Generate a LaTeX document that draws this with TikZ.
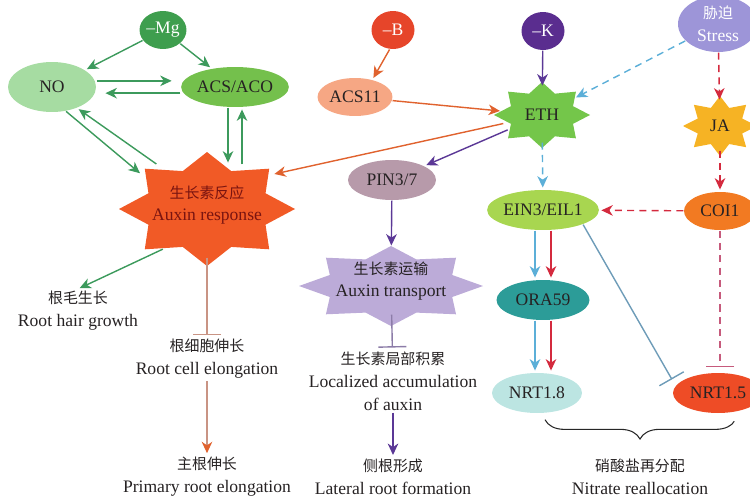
\documentclass[tikz,border=0pt]{standalone}
\usepackage{fontspec}
\setmainfont{Liberation Serif}
\newfontfamily\cjk{Noto Sans CJK SC}[Scale=0.85]
\usepackage{xcolor}
\usepackage{tikz}
\usetikzlibrary{arrows,arrows.meta,shapes.geometric,calc,decorations.pathreplacing}

\definecolor{mggreen}{HTML}{3E9E4E}
\definecolor{nogreen}{HTML}{A6DCA2}
\definecolor{acsgreen}{HTML}{74C04C}
\definecolor{linegreen}{HTML}{3C9A5C}
\definecolor{auxorange}{HTML}{F15A26}
\definecolor{auxtext}{HTML}{7A1410}
\definecolor{peach}{HTML}{F6A784}
\definecolor{bred}{HTML}{E6452A}
\definecolor{kpurple}{HTML}{5A2D8F}
\definecolor{stresslav}{HTML}{9D95D8}
\definecolor{ethgreen}{HTML}{74C64A}
\definecolor{jayellow}{HTML}{F6B324}
\definecolor{coiorange}{HTML}{F27A22}
\definecolor{eingreen}{HTML}{A8D650}
\definecolor{pinmauve}{HTML}{B79AAA}
\definecolor{translav}{HTML}{BCABD8}
\definecolor{orateal}{HTML}{2C9C98}
\definecolor{nrtcyan}{HTML}{BCE5E2}
\definecolor{nrtred}{HTML}{EE4C26}
\definecolor{lineorange}{HTML}{E0622E}
\definecolor{lineblue}{HTML}{5CAFD8}
\definecolor{linered}{HTML}{D42A3E}
\definecolor{linepurple}{HTML}{5B3896}
\definecolor{transline}{HTML}{8C7CA8}
\definecolor{linesteel}{HTML}{6E9CB8}
\definecolor{linepink}{HTML}{C65A7C}
\definecolor{linebrown}{HTML}{C99484}
\definecolor{txtgray}{HTML}{262223}

% x, y, rx, ry, inner ratio, colour
\newcommand{\starfill}[6]{%
  \fill[#6] plot[samples at={0,...,15},variable=\k]
    ({#1+(1-(1-#5)*mod(\k,2))*#3*cos(90+22.5*\k)},{#2+(1-(1-#5)*mod(\k,2))*#4*sin(90+22.5*\k)}) -- cycle;}

\begin{document}
\begin{tikzpicture}[x=0.02cm,y=-0.02cm,thick,shorten >=1pt,
    >={Stealth[length=6.5pt,width=6pt,inset=2pt]},
    every node/.style={font=\fontsize{10}{13}\selectfont,text=txtgray},
    sign node/.style={ellipse,inner sep=0pt,minimum width=0.86cm,minimum height=0.76cm,text=white},
    oval node/.style={ellipse,inner sep=0pt},
    star node/.style={ellipse,inner sep=0pt,align=center},
    text node/.style={align=center,inner sep=1pt},
    inhibit/.style={-{Bar[width=16pt]}},
    dashline/.style={dash pattern=on 4pt off 3pt}]

  \useasboundingbox (0,0) rectangle (750,500);

  % stars
  \starfill{207}{209}{88}{57}{0.72}{auxorange}
  \starfill{542}{115}{48}{33}{0.7}{ethgreen}
  \starfill{720}{126}{37}{30}{0.65}{jayellow}
  \starfill{391}{286}{92}{40}{0.72}{translav}

  % nodes
  \node[sign node,fill=mggreen] (mg) at (163,30) {\textendash Mg};
  \node[sign node,fill=bred] (b) at (393,30) {\textendash B};
  \node[sign node,fill=kpurple] (k) at (543,31) {\textendash K};
  \node[oval node,fill=stresslav,text=white,align=center,minimum width=1.6cm,minimum height=1.12cm] (stress) at (718,24) {{\cjk 胁迫}\\Stress};

  \node[oval node,fill=nogreen,minimum width=1.76cm,minimum height=1cm] (no) at (52,87) {NO};
  \node[oval node,fill=acsgreen,minimum width=2cm,minimum height=0.8cm] (acs) at (235,87) {ACS/ACO};
  \node[oval node,fill=peach,minimum width=1.5cm,minimum height=0.76cm] (acs11) at (355,97) {ACS11};
  \node[oval node,fill=pinmauve,minimum width=1.76cm,minimum height=0.8cm] (pin) at (392,180) {PIN3/7};
  \node[oval node,fill=eingreen,minimum width=2.2cm,minimum height=0.8cm] (ein) at (543,210) {EIN3/EIL1};
  \node[oval node,fill=coiorange,minimum width=1.44cm,minimum height=0.76cm] (coi) at (720,211) {COI1};
  \node[oval node,fill=orateal,minimum width=1.86cm,minimum height=0.8cm] (ora) at (543,300) {ORA59};
  \node[oval node,fill=nrtcyan,minimum width=1.8cm,minimum height=0.8cm] (nrt18) at (537,393) {NRT1.8};
  \node[oval node,fill=nrtred,minimum width=1.8cm,minimum height=0.8cm] (nrt15) at (718,393) {NRT1.5};

  \node[star node,text=auxtext,minimum width=3.2cm,minimum height=2.08cm] (aux) at (207,205) {{\cjk 生长素反应}\\Auxin response};
  \node[star node,minimum width=1.6cm,minimum height=1.08cm] (eth) at (542,115) {ETH};
  \node[star node,minimum width=1.2cm,minimum height=0.96cm] (ja) at (720,126) {JA};
  \node[star node,minimum width=3cm,minimum height=1.32cm] (trans) at (391,281) {{\cjk 生长素运输}\\Auxin transport};

  \node[text node] (hair) at (78,311) {{\cjk 根毛生长}\\Root hair growth};
  \node[text node] (cell) at (207,359) {{\cjk 根细胞伸长}\\Root cell elongation};
  \node[text node] (prim) at (207,477) {{\cjk 主根伸长}\\Primary root elongation};
  \node[text node] (loc) at (393,381) {{\cjk 生长素局部积累}\\Localized accumulation\\of auxin};
  \node[text node] (lat) at (393,477) {{\cjk 侧根形成}\\Lateral root formation};
  \node[text node] (nitrate) at (640,477) {{\cjk 硝酸盐再分配}\\Nitrate reallocation};

  % connectors
  \path[->,linegreen]
    (mg) edge (no)
         edge (acs)
    ([yshift=3.5pt]no.east) edge[shorten >=5pt] ([yshift=3.5pt]acs.west)
    ([yshift=-3.5pt]acs.west) edge[shorten >=5pt] ([yshift=-3.5pt]no.east)
    (no.300) edge (aux.155)
    (aux.141) edge (no.320)
    ($(acs.south)+(-7,0)$) edge ($(acs.south |- aux.north)+(-7,12)$)
    ($(acs.south |- aux.north)+(7,12)$) edge ($(acs.south)+(7,0)$)
    (aux.225) edge (hair.north);

  \path[->,lineorange]
    (b.260) edge (acs11.45)
    (acs11) edge (eth)
    (eth) edge (aux.25);

  \path[->,linepurple]
    (k) edge (eth)
    (eth) edge (pin)
    (pin) edge (trans)
    (loc) edge (lat);
  \draw[inhibit,transline] (trans) -- (loc);

  \path[->,lineblue,dashline]
    (stress) edge (eth)
    (eth) edge (ein);
  \path[->,linered,dashline]
    (stress) edge (ja)
    (ja) edge (coi)
    (coi) edge (ein);
  \draw[inhibit,linepink,dashline,shorten >=3pt] (coi) -- (coi |- nrt15.north);

  \draw[->,lineblue] ($(ein.south)+(-8,0)$) -- ($(ora.north)+(-8,0)$);
  \draw[->,linered] ($(ein.south)+(8,0)$) -- ($(ora.north)+(8,0)$);
  \draw[->,lineblue] ($(ora.south)+(-8,0)$) -- ($(ora.south |- nrt18.north)+(-8,0)$);
  \draw[->,linered] ($(ora.south)+(8,0)$) -- ($(ora.south |- nrt18.north)+(8,0)$);
  \draw[inhibit,linesteel,shorten >=4pt] (ein.340) -- (nrt15.170);

  \draw[inhibit,linebrown] (aux) -- (cell);
  \draw[linebrown,-{Stealth[length=6.5pt,width=6pt,inset=2pt,color=lineorange]}] (cell) -- (prim);

  \draw[decorate,decoration={brace,mirror,amplitude=11pt},black!85,semithick]
    ($(nrt18.south)+(8,6)$) -- ($(nrt15.south)+(17,6)$);

\end{tikzpicture}
\end{document}
